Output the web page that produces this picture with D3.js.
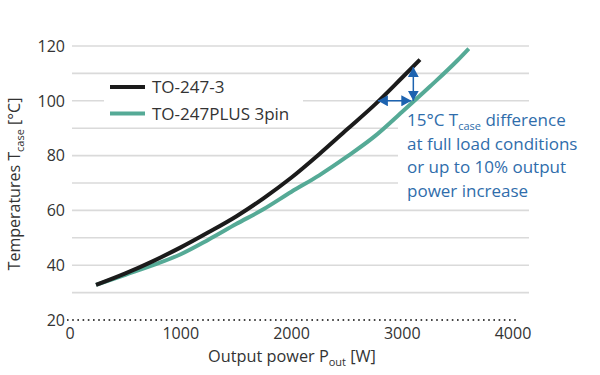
<!DOCTYPE html>
<html>
<head>
<meta charset="utf-8">
<script src="https://cdn.jsdelivr.net/npm/d3@7"></script>
<style>
  body { margin: 0; background: #fff; }
  svg text { font-family: "Open Sans", "Noto Sans", sans-serif; }
</style>
</head>
<body>
<div id="chart"></div>
<script>

// series: power [W] and case temperature [°C]
var powerTO247 = [235, 500, 750, 1000, 1250, 1500, 1750, 2000, 2250, 2500, 2750, 3000, 3160];
var tempTO247  = [32.8, 37, 41.5, 46.5, 52, 57.8, 64.5, 72, 80.5, 89.5, 98.5, 108.5, 115];

var powerPlus = [235, 500, 750, 1000, 1250, 1500, 1750, 2000, 2250, 2500, 2750, 3000, 3250, 3500, 3600];
var tempPlus  = [32.8, 36.5, 40, 44, 49.3, 55, 60.5, 66.8, 72.8, 79.6, 87, 96, 105.2, 114.8, 119];

var xTicks = [0, 1000, 2000, 3000, 4000];
var yTicks = [20, 40, 60, 80, 100, 120];
var gridValues = [30, 40, 50, 60, 70, 80, 90, 100, 110, 120];

var seriesNames = ['TO-247-3', 'TO-247PLUS 3pin'];
var seriesColors = ['#1b1b1b', '#55aa96'];

// annotation: arrows between the two curves
var arrowPower = 3100;       // vertical arrow position
var arrowTop = 112.3;        // black curve at 3100 W
var arrowTemp = 100;         // horizontal arrow level
var arrowLeftPower = 2780;   // black curve at 100 °C
var noteLines = ['difference', 'at full load conditions', 'or up to 10% output', 'power increase'];

var width = 600;
var height = 375;

var svg = d3.select('#chart')
  .append('svg')
  .attr('width', width)
  .attr('height', height);

var xScale = d3.scaleLinear()
  .domain([0, 4000])
  .range([70, 513]);

var yScale = d3.scaleLinear()
  .domain([20, 120])
  .range([320, 46]);

// grid lines
svg.selectAll('line.grid')
  .data(gridValues)
  .enter()
  .append('line')
  .attr('class', 'grid')
  .attr('x1', 72)
  .attr('x2', 529)
  .attr('y1', function(d) { return yScale(d); })
  .attr('y2', function(d) { return yScale(d); })
  .attr('stroke', '#dadada')
  .attr('stroke-width', 1.6);

// white boxes behind legend and note hide the grid there
svg.append('rect')
  .attr('x', 104).attr('y', 80).attr('width', 199).attr('height', 42)
  .attr('fill', '#fff');
svg.append('rect')
  .attr('x', 398).attr('y', 106).attr('width', 140).attr('height', 98)
  .attr('fill', '#fff');

// dotted base line at 20
svg.append('line')
  .attr('x1', 67)
  .attr('x2', 516)
  .attr('y1', yScale(20))
  .attr('y2', yScale(20))
  .attr('stroke', '#444')
  .attr('stroke-width', 2)
  .attr('stroke-dasharray', '1.6,3.6');

// y tick labels
svg.selectAll('text.ytick')
  .data(yTicks)
  .enter()
  .append('text')
  .attr('class', 'ytick')
  .attr('x', 65)
  .attr('y', function(d) { return yScale(d); })
  .attr('dy', '0.36em')
  .attr('text-anchor', 'end')
  .attr('font-size', 16)
  .attr('fill', '#333')
  .text(function(d) { return d; });

// x tick labels
svg.selectAll('text.xtick')
  .data(xTicks)
  .enter()
  .append('text')
  .attr('class', 'xtick')
  .attr('x', function(d) { return xScale(d); })
  .attr('y', 339)
  .attr('text-anchor', 'middle')
  .attr('font-size', 16)
  .attr('fill', '#333')
  .text(function(d) { return d; });

// x axis title
var xTitle = svg.append('text')
  .attr('x', 292)
  .attr('y', 362)
  .attr('text-anchor', 'middle')
  .attr('font-size', 16.3)
  .attr('fill', '#333');
xTitle.append('tspan').text('Output power P');
xTitle.append('tspan').attr('font-size', 11).attr('dy', 4).text('out');
xTitle.append('tspan').attr('dy', -4).text(' [W]');

// y axis title
var yTitle = svg.append('text')
  .attr('transform', 'translate(20,184) rotate(-90)')
  .attr('text-anchor', 'middle')
  .attr('font-size', 16)
  .attr('fill', '#333');
yTitle.append('tspan').text('Temperatures T');
yTitle.append('tspan').attr('font-size', 11).attr('dy', 4).text('case');
yTitle.append('tspan').attr('dy', -4).text(' [°C]');

// curves
var line = d3.line()
  .x(function(d) { return xScale(d[0]); })
  .y(function(d) { return yScale(d[1]); })
  .curve(d3.curveMonotoneX);

var series = [
  d3.zip(powerPlus, tempPlus),
  d3.zip(powerTO247, tempTO247)
];
var seriesColorOrder = [seriesColors[1], seriesColors[0]];

svg.selectAll('path.curve')
  .data(series)
  .enter()
  .append('path')
  .attr('class', 'curve')
  .attr('d', line)
  .attr('fill', 'none')
  .attr('stroke', function(d, i) { return seriesColorOrder[i]; })
  .attr('stroke-width', 4)
  .attr('stroke-linecap', 'butt');

// legend
var legend = svg.selectAll('g.legend')
  .data(seriesNames)
  .enter()
  .append('g')
  .attr('class', 'legend')
  .attr('transform', function(d, i) { return 'translate(110,' + (87 + i * 26.5) + ')'; });

legend.append('line')
  .attr('x1', 0).attr('x2', 35)
  .attr('stroke', function(d, i) { return seriesColors[i]; })
  .attr('stroke-width', 4);

legend.append('text')
  .attr('x', 42)
  .attr('dy', '0.36em')
  .attr('font-size', 17)
  .attr('fill', '#333')
  .text(function(d) { return d; });

// arrows
var blue = '#1d63b0';
var defs = svg.append('defs');
defs.append('marker')
  .attr('id', 'head')
  .attr('viewBox', '0 0 10 10')
  .attr('refX', 10).attr('refY', 5)
  .attr('markerWidth', 10).attr('markerHeight', 11)
  .attr('markerUnits', 'userSpaceOnUse')
  .attr('orient', 'auto-start-reverse')
  .attr('preserveAspectRatio', 'none')
  .append('path')
  .attr('d', 'M0,0L10,5L0,10Z')
  .attr('fill', blue);

svg.append('line')
  .attr('x1', xScale(arrowPower)).attr('x2', xScale(arrowPower))
  .attr('y1', yScale(arrowTop)).attr('y2', yScale(arrowTemp))
  .attr('stroke', blue)
  .attr('stroke-width', 1.5)
  .attr('marker-start', 'url(#head)')
  .attr('marker-end', 'url(#head)');

svg.append('line')
  .attr('x1', xScale(arrowLeftPower)).attr('x2', xScale(arrowPower) - 2)
  .attr('y1', yScale(arrowTemp)).attr('y2', yScale(arrowTemp))
  .attr('stroke', blue)
  .attr('stroke-width', 1.5)
  .attr('marker-start', 'url(#head)')
  .attr('marker-end', 'url(#head)');

// note text
var note = svg.append('text')
  .attr('x', 407)
  .attr('y', 126)
  .attr('font-size', 17)
  .attr('fill', '#2f6dab');
note.append('tspan').text('15°C T');
note.append('tspan').attr('font-size', 11).attr('dy', 4).text('case');
note.append('tspan').attr('dy', -4).text(' ' + noteLines[0]);

noteLines.slice(1).forEach(function(t, i) {
  svg.append('text')
    .attr('x', 407)
    .attr('y', 126 + (i + 1) * 23.5)
    .attr('font-size', 17)
    .attr('fill', '#2f6dab')
    .text(t);
});

</script>
</body>
</html>
